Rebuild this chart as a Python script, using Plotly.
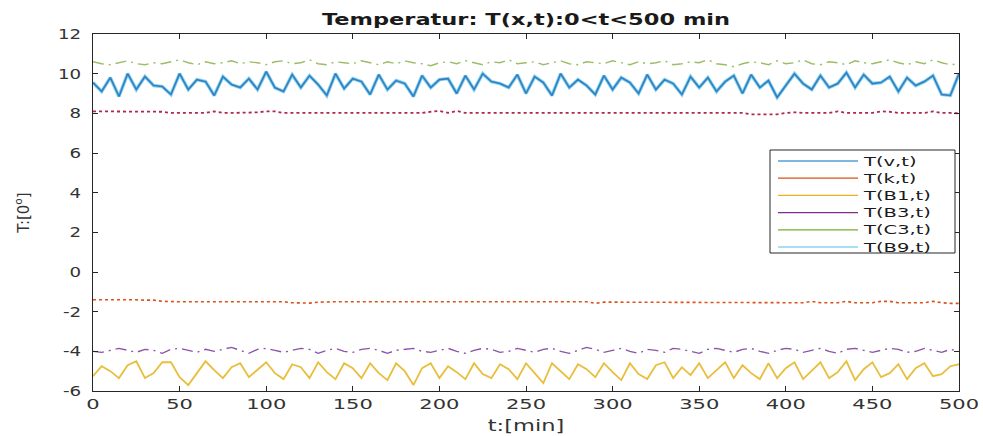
import plotly.graph_objects as go

# time axis (min), sampled every 5 min
t = list(range(0, 505, 5))

T_v = [9.55, 9.10, 9.80, 8.85, 10.00, 9.20, 9.85, 9.40, 9.35, 8.95,
       10.00, 9.20, 9.70, 9.60, 8.90, 9.85, 9.45, 9.30, 9.75, 9.20,
       10.10, 9.30, 9.10, 9.95, 9.30, 9.90, 9.45, 8.90, 10.00, 9.25,
       9.75, 9.60, 8.95, 9.95, 9.20, 9.65, 9.50, 8.85, 9.90, 9.30,
       9.70, 9.75, 9.00, 9.90, 9.20, 10.00, 9.60, 9.50, 9.30, 9.95,
       9.00, 9.85, 9.55, 8.90, 10.00, 9.30, 9.70, 9.40, 8.95, 9.90,
       9.20, 9.80, 9.55, 9.00, 9.95, 9.20, 9.70, 9.50, 8.95, 9.85,
       9.30, 9.80, 9.10, 9.60, 9.90, 9.00, 9.95, 9.30, 9.65, 8.80,
       9.40, 10.00, 9.50, 9.20, 9.90, 9.30, 9.50, 10.05, 9.30, 9.95,
       9.50, 9.55, 9.85, 9.10, 9.80, 9.40, 9.60, 9.90, 8.95, 8.90,
       10.00]

T_k = [-1.40, -1.40, -1.38, -1.38, -1.40, -1.40, -1.42, -1.42, -1.48, -1.50,
       -1.50, -1.50, -1.50, -1.50, -1.50, -1.50, -1.50, -1.50, -1.50, -1.50,
       -1.50, -1.50, -1.50, -1.55, -1.57, -1.57, -1.52, -1.50, -1.50, -1.50,
       -1.50, -1.50, -1.50, -1.50, -1.50, -1.50, -1.50, -1.50, -1.50, -1.50,
       -1.50, -1.50, -1.50, -1.50, -1.50, -1.50, -1.50, -1.50, -1.50, -1.50,
       -1.50, -1.50, -1.50, -1.50, -1.50, -1.50, -1.50, -1.50, -1.58, -1.52,
       -1.52, -1.52, -1.52, -1.52, -1.52, -1.52, -1.52, -1.52, -1.52, -1.52,
       -1.55, -1.55, -1.55, -1.55, -1.55, -1.55, -1.55, -1.55, -1.55, -1.55,
       -1.55, -1.55, -1.55, -1.48, -1.55, -1.55, -1.55, -1.48, -1.55, -1.55,
       -1.55, -1.48, -1.48, -1.55, -1.55, -1.55, -1.55, -1.48, -1.55, -1.58,
       -1.58]

T_B1 = [-5.25, -4.75, -5.00, -5.35, -4.70, -4.50, -5.35, -5.10, -4.55, -4.55,
        -5.30, -5.70, -5.10, -4.50, -4.95, -5.35, -4.80, -4.60, -5.30, -4.90,
        -4.55, -5.10, -5.40, -4.65, -4.80, -5.35, -4.55, -5.05, -5.40, -4.60,
        -4.85, -5.35, -4.60, -5.10, -5.45, -4.60, -5.00, -5.70, -4.85, -4.60,
        -5.35, -4.75, -5.05, -5.40, -4.60, -5.15, -5.35, -4.65, -4.90, -5.40,
        -4.60, -5.10, -5.60, -4.60, -5.00, -5.40, -4.65, -4.90, -5.30, -4.60,
        -5.05, -5.45, -4.60, -5.15, -5.40, -4.70, -4.55, -5.35, -4.80, -5.20,
        -4.60, -5.35, -4.95, -4.55, -5.35, -4.70, -5.10, -5.40, -4.60, -5.35,
        -4.85, -4.55, -5.40, -5.00, -4.55, -5.35, -5.05, -4.50, -5.45, -4.90,
        -4.55, -5.30, -5.10, -4.65, -5.40, -4.85, -4.60, -5.25, -5.15, -4.75,
        -4.65]

T_B3 = [-4.00, -4.05, -3.95, -3.85, -3.95, -4.05, -3.90, -3.95, -4.10, -3.90,
        -3.85, -3.95, -4.05, -3.90, -4.00, -3.90, -3.80, -3.95, -4.10, -3.90,
        -3.85, -3.95, -4.05, -3.95, -3.85, -3.90, -4.10, -3.95, -3.85, -4.00,
        -4.05, -3.90, -3.85, -3.95, -4.10, -3.95, -3.90, -3.85, -4.00, -4.05,
        -3.95, -3.85, -4.00, -4.10, -3.95, -3.85, -3.90, -4.05, -4.00, -3.85,
        -3.95, -4.05, -3.90, -3.85, -4.00, -4.10, -3.95, -3.80, -3.90, -4.05,
        -3.95, -3.85, -4.00, -4.10, -3.90, -3.95, -4.05, -3.85, -3.90, -4.00,
        -4.10, -3.90, -3.85, -3.95, -4.05, -3.90, -3.85, -4.00, -4.10, -3.95,
        -3.85, -3.90, -4.05, -3.95, -3.85, -4.00, -4.10, -3.90, -3.85, -3.95,
        -4.05, -3.95, -3.85, -3.90, -4.05, -4.00, -3.85, -3.95, -4.05, -3.90,
        -4.00]

T_C3 = [10.60, 10.50, 10.45, 10.55, 10.65, 10.50, 10.45, 10.55, 10.50, 10.60,
        10.70, 10.55, 10.45, 10.60, 10.50, 10.55, 10.65, 10.50, 10.60, 10.55,
        10.45, 10.60, 10.65, 10.50, 10.55, 10.70, 10.50, 10.45, 10.60, 10.55,
        10.50, 10.65, 10.55, 10.45, 10.60, 10.50, 10.65, 10.55, 10.50, 10.40,
        10.55, 10.60, 10.50, 10.65, 10.55, 10.45, 10.60, 10.55, 10.70, 10.50,
        10.55, 10.60, 10.45, 10.55, 10.65, 10.50, 10.45, 10.60, 10.55, 10.50,
        10.65, 10.55, 10.45, 10.60, 10.50, 10.55, 10.65, 10.45, 10.50, 10.60,
        10.55, 10.70, 10.50, 10.45, 10.35, 10.50, 10.60, 10.55, 10.45, 10.65,
        10.50, 10.55, 10.70, 10.50, 10.45, 10.60, 10.55, 10.45, 10.65, 10.55,
        10.50, 10.60, 10.70, 10.55, 10.45, 10.60, 10.50, 10.70, 10.55, 10.45,
        10.50]

T_B9 = list(T_v)  # overlaps T(v,t) in the picture

T_extra = [8.10, 8.10, 8.10, 8.10, 8.10, 8.10, 8.10, 8.08, 8.08, 8.02,
           8.02, 8.02, 8.02, 8.02, 8.10, 8.02, 8.02, 8.02, 8.02, 8.05,
           8.10, 8.10, 8.02, 8.02, 8.02, 8.02, 8.02, 8.02, 8.02, 8.02,
           8.02, 8.02, 8.02, 8.02, 8.02, 8.02, 8.02, 8.02, 8.02, 8.08,
           8.12, 8.02, 8.12, 8.02, 8.02, 8.02, 8.02, 8.02, 8.02, 8.02,
           8.02, 8.02, 8.02, 8.02, 8.02, 8.02, 8.02, 8.02, 8.02, 8.02,
           8.02, 8.02, 8.02, 8.02, 8.02, 8.02, 8.02, 8.02, 8.02, 8.02,
           8.02, 8.02, 8.02, 8.02, 8.02, 8.02, 7.95, 7.95, 7.95, 7.95,
           8.02, 8.05, 8.02, 8.02, 8.02, 8.02, 8.10, 8.02, 8.02, 8.02,
           8.02, 8.10, 8.08, 8.02, 8.02, 8.02, 8.02, 8.10, 8.02, 8.02,
           8.00]

names = ["T(v,t)", "T(k,t)", "T(B1,t)", "T(B3,t)", "T(C3,t)", "T(B9,t)"]
colors = ["#0072BD", "#D95319", "#EDB120", "#7E2F8E", "#77AC30", "#4DBEEE"]

FONT = "DejaVu Sans, Verdana, sans-serif"

# plot-area geometry (pixels) used to place the hand-drawn legend box
L, R, T, B = 93, 959, 34, 391
W, H = R - L, B - T
def px(x):
    return (x - L) / W
def py(y):
    return (B - y) / H

fig = go.Figure()

fig.add_trace(go.Scatter(x=t, y=T_B9, mode="lines", showlegend=False,
                         line=dict(color="#86D0F0", width=3.5)))
fig.add_trace(go.Scatter(x=t, y=T_v, mode="lines", showlegend=False,
                         line=dict(color="#2F7FBF", width=1.6)))
fig.add_trace(go.Scatter(x=t, y=T_C3, mode="lines", showlegend=False,
                         line=dict(color="#9BBD66", width=1.4, dash="11px,5px,2px,5px")))
fig.add_trace(go.Scatter(x=t, y=T_extra, mode="lines", showlegend=False,
                         line=dict(color="#B0284A", width=1.8, dash="3px,3px")))
fig.add_trace(go.Scatter(x=t, y=T_k, mode="lines", showlegend=False,
                         line=dict(color="#D95319", width=1.6, dash="3px,3px")))
fig.add_trace(go.Scatter(x=t, y=T_B3, mode="lines", showlegend=False,
                         line=dict(color="#8A55A8", width=1.4, dash="11px,5px,2px,5px")))
fig.add_trace(go.Scatter(x=t, y=T_B1, mode="lines", showlegend=False,
                         line=dict(color="#E8BE3C", width=1.8)))

axis_color = "#262626"

# legend box (drawn by hand to match MATLAB's compact legend)
shapes = [dict(type="rect", xref="paper", yref="paper",
               x0=px(770), x1=px(955), y0=py(253), y1=py(150),
               line=dict(color=axis_color, width=1), fillcolor="white", layer="above")]
annotations = []
for i, (n, c) in enumerate(zip(names, colors)):
    yy = 161 + 17.2 * i
    shapes.append(dict(type="line", xref="paper", yref="paper",
                       x0=px(778), x1=px(858), y0=py(yy), y1=py(yy),
                       line=dict(color=c, width=1.2), layer="above"))
    annotations.append(dict(text=n, xref="paper", yref="paper",
                            x=px(861), y=py(yy), xanchor="left", yanchor="middle",
                            align="left", showarrow=False,
                            font=dict(family=FONT, size=13, color="#1a1a1a")))

tick_font = dict(family=FONT, size=14, color="#333333")

fig.update_layout(
    width=983, height=436,
    margin=dict(l=L, r=983 - R, t=T, b=436 - B, autoexpand=False),
    paper_bgcolor="white", plot_bgcolor="white",
    showlegend=False,
    shapes=shapes, annotations=annotations,
    title=dict(text="<b>Temperatur: T(x,t):0&lt;t&lt;500 min</b>",
               xref="paper", x=0.5, xanchor="center",
               yref="container", y=1 - 20 / 436, yanchor="middle",
               font=dict(family=FONT, size=15, color="#1a1a1a")),
    xaxis=dict(range=[0, 500], tickmode="array", tickvals=list(range(0, 501, 50)),
               showline=True, linecolor=axis_color, linewidth=1, mirror="ticks",
               ticks="inside", ticklen=5, tickcolor=axis_color, showgrid=False, zeroline=False,
               tickfont=tick_font, automargin=False,
               title=dict(text="t:[min]", standoff=9,
                          font=dict(family=FONT, size=15, color="#333333"))),
    yaxis=dict(range=[-6, 12], tickmode="array", tickvals=list(range(-6, 13, 2)),
               ticktext=[str(v) for v in range(-6, 13, 2)],
               showline=True, linecolor=axis_color, linewidth=1, mirror="ticks",
               ticks="inside", ticklen=5, tickcolor=axis_color, showgrid=False, zeroline=False,
               tickfont=tick_font, ticklabelstandoff=8, automargin=False,
               title=dict(text="T:[0<sup>o</sup>]", standoff=30,
                          font=dict(family=FONT, size=15, color="#333333"))),
)

# the reference figure is horizontally stretched; widen its texts the same way
post = """
document.body.style.margin='0';document.body.style.padding='0';
var gd = document.getElementById('{plot_id}');
function stretch(sel, f) {
  gd.querySelectorAll(sel).forEach(function(el){
    var w = el.getComputedTextLength();
    if (w > 0) {
      el.setAttribute('textLength', (w * f).toFixed(1));
      el.setAttribute('lengthAdjust', 'spacingAndGlyphs');
    }
  });
}
stretch('g.xtick text', 1.5);
stretch('g.ytick text', 1.3);
stretch('text.gtitle', 1.5);
stretch('text.xtitle', 1.5);
stretch('text.annotation-text', 1.5);
"""

fig.write_html("out.html", post_script=post,
               config={"displayModeBar": False, "responsive": False})
